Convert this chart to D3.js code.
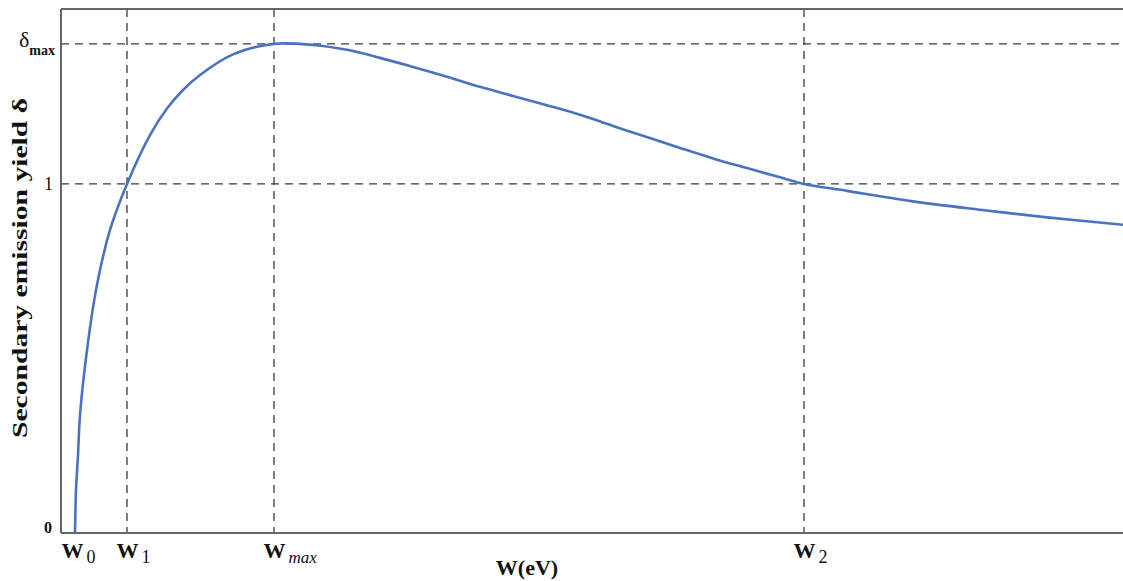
<html>
<head>
<script src="https://cdn.jsdelivr.net/npm/d3@7"></script>
<style>
  body { margin: 0; background: white; }
  svg, svg text { font-family: "Liberation Serif", "Times New Roman", serif; }
</style>
</head>
<body>
<script>
// curve (W in arbitrary eV units, delta = yield)
var curveW =     [14, 14.4, 15, 17, 19, 26, 36, 49, 66, 89, 106, 122, 139, 172, 213, 252, 286, 319, 352, 386, 419, 452, 485, 519, 552, 585, 619, 652, 685, 719, 743, 786, 852, 919, 986, 1062];
var curveDelta = [0, 0.06, 0.123, 0.223, 0.338, 0.524, 0.711, 0.868, 1.0, 1.14, 1.216, 1.269, 1.312, 1.371, 1.401, 1.398, 1.384, 1.361, 1.335, 1.307, 1.278, 1.252, 1.226, 1.198, 1.166, 1.135, 1.103, 1.073, 1.046, 1.019, 1.0, 0.98, 0.95, 0.926, 0.904, 0.883];

var xTicks = [14, 66, 213, 743];
var xTickSubs = ["0", "1", "max", "2"];
var xDashed = [66, 213, 743];

var yTicks = [0, 1, 1.401];
var yTickLabels = ["0", "1", "δ"];
var yDashed = [1, 1.401];

var width = 1123, height = 581;
var mLeft = 61, mRight = 1123, mTop = 9, mBottom = 533;

var svg = d3.select("body").append("svg")
  .attr("width", width)
  .attr("height", height);

var x = d3.scaleLinear().domain([0, 1062]).range([mLeft, mRight]);
var y = d3.scaleLinear().domain([0, 1.501]).range([mBottom, mTop]);

// dashed guides
svg.append("g").selectAll("line")
  .data(xDashed).enter().append("line")
  .attr("x1", d => x(d)).attr("x2", d => x(d))
  .attr("y1", mTop).attr("y2", mBottom)
  .attr("stroke", "#3a3a3a").attr("stroke-width", 1.3)
  .attr("stroke-dasharray", "8,6");

svg.append("g").selectAll("line")
  .data(yDashed).enter().append("line")
  .attr("x1", mLeft).attr("x2", mRight)
  .attr("y1", d => y(d)).attr("y2", d => y(d))
  .attr("stroke", "#3a3a3a").attr("stroke-width", 1.3)
  .attr("stroke-dasharray", "8,6");

// frame: top line
svg.append("line")
  .attr("x1", mLeft).attr("x2", mRight)
  .attr("y1", mTop).attr("y2", mTop)
  .attr("stroke", "#666").attr("stroke-width", 2);

// curve
var pts = curveW.map((w, i) => [w, curveDelta[i]]);
var line = d3.line()
  .x(d => x(d[0]))
  .y(d => y(d[1]))
  .curve(d3.curveCatmullRom.alpha(0.5));

svg.append("path")
  .datum(pts)
  .attr("d", line)
  .attr("fill", "none")
  .attr("stroke", "#4a72c0")
  .attr("stroke-width", 2.6);

// x axis
var xAxis = d3.axisBottom(x).tickValues(xTicks).tickSize(0).tickFormat("");
var gx = svg.append("g").attr("transform", "translate(0," + mBottom + ")").call(xAxis)
  .attr("font-family", null);
gx.select(".domain").attr("stroke", "#666").attr("stroke-width", 2).attr("d", "M" + mLeft + ",0H" + mRight);
gx.selectAll(".tick text").each(function(d, i) {
  var t = d3.select(this)
    .attr("text-anchor", "start")
    .attr("x", i == 0 ? -14 : -11)
    .attr("y", 25)
    .attr("dy", null)
    .attr("fill", "#111");
  t.append("tspan").text("W")
    .attr("font-size", 22).attr("font-weight", "bold");
  t.append("tspan").text(xTickSubs[i])
    .attr("dx", 3).attr("dy", 5)
    .attr("font-size", xTickSubs[i] == "max" ? 17 : 18)
    .attr("font-style", xTickSubs[i] == "max" ? "italic" : "normal");
});

// y axis
var yAxis = d3.axisLeft(y).tickValues(yTicks).tickSize(0).tickFormat("");
var gy = svg.append("g").attr("transform", "translate(" + mLeft + ",0)").call(yAxis)
  .attr("font-family", null);
gy.select(".domain").attr("stroke", "#666").attr("stroke-width", 2).attr("d", "M0," + mTop + "V" + mBottom);
gy.selectAll(".tick text").each(function(d, i) {
  var t = d3.select(this).attr("fill", "#111").attr("text-anchor", "end");
  if (i == 0) {
    t.attr("x", -9).attr("dy", -1).attr("font-size", 16).attr("font-weight", "bold").text(yTickLabels[i]);
  } else if (i == 1) {
    t.attr("x", -8).attr("dy", 6).attr("font-size", 18).text(yTickLabels[i]);
  } else {
    t.attr("x", -6).attr("dy", 3);
    t.append("tspan").text(yTickLabels[i]).attr("font-size", 22);
    t.append("tspan").text("max").attr("dy", 8).attr("font-size", 14).attr("font-weight", "bold");
  }
});

// axis titles
svg.append("text")
  .attr("transform", "translate(27,268) rotate(-90)")
  .attr("text-anchor", "middle")
  .attr("font-size", 22)
  .attr("font-weight", "bold")
  .attr("fill", "#111")
  .attr("textLength", 340)
  .attr("lengthAdjust", "spacingAndGlyphs")
  .text("Secondary emission yield δ");

svg.append("text")
  .attr("x", 527).attr("y", 575)
  .attr("text-anchor", "middle")
  .attr("font-size", 22)
  .attr("font-weight", "bold")
  .attr("fill", "#111")
  .text("W(eV)");
</script>
</body>
</html>
